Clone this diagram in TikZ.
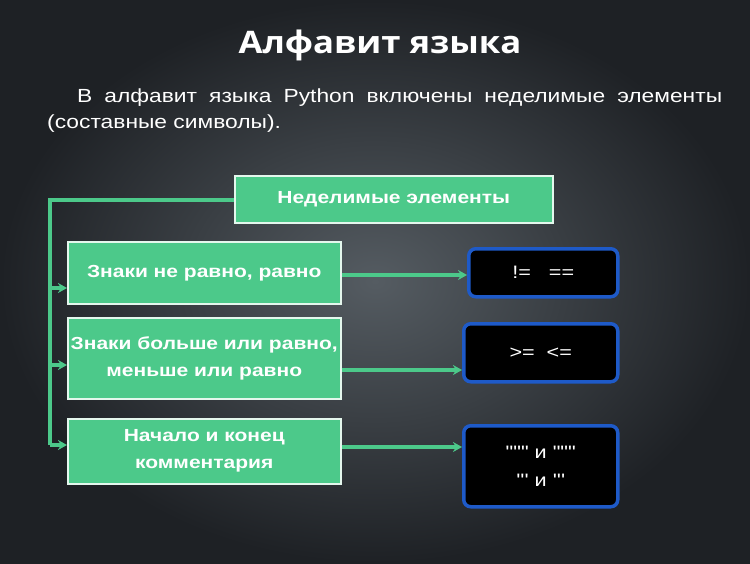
\documentclass[tikz,border=0pt]{standalone}
\usepackage{fontspec}
\setmainfont[FakeStretch=1.2]{Liberation Sans}
\newfontfamily\titlefont[FakeStretch=1.12]{Open Sans}
\newfontfamily\codefont[FakeStretch=1.2,Ligatures=NoCommon]{Liberation Sans}
\usetikzlibrary{arrows.meta}
\definecolor{boxgreen}{RGB}{76,201,138}
\definecolor{bgdark}{RGB}{30,33,37}
\definecolor{bglight}{RGB}{85,92,98}
\definecolor{rimblue}{RGB}{30,90,200}
\newcommand{\dq}{\symbol{34}}
\newcommand{\sq}{\symbol{39}}
\tikzset{
  greenbox/.style={draw=white!85!boxgreen, line width=1.5pt, fill=boxgreen, text=white,
    font=\bfseries\fontsize{17.5}{27}\selectfont, align=center, anchor=north west, inner sep=2pt},
  codebox/.style={draw=rimblue, line width=3.5pt, fill=black, rounded corners=7pt, text=white,
    font=\codefont\fontsize{18}{28}\selectfont, align=center, anchor=north west},
  link/.style={boxgreen, line width=3.5pt},
  arr/.style={link, -{Stealth[length=9pt,width=10pt]}}
}
\begin{document}
\begin{tikzpicture}[x=1pt, y=-1pt]
% фон
\shade[inner color=bglight, outer color=bgdark] (0,0) rectangle (750,563);
\useasboundingbox (0,0) rectangle (750,563);
% заголовок
\node[text=white, font=\titlefont\bfseries\fontsize{31}{36}\selectfont] (title) at (380,45) {Алфавит языка};
\node[text=white, font=\fontsize{19}{26}\selectfont, text width=675pt, align=justify, anchor=north west, inner sep=0pt] (intro) at (47,89)
  {\hspace*{30pt}В алфавит языка Python включены неделимые элементы (составные символы).};
% блоки
\node[greenbox, minimum width=318pt, minimum height=47pt] (head) at (234,175) {Неделимые элементы};
\node[greenbox, minimum width=273pt, minimum height=62pt] (neq) at (67,241) {Знаки не равно, равно};
\node[greenbox, minimum width=273pt, minimum height=81pt] (geq) at (67,317) {Знаки больше или равно,\\меньше или равно};
\node[greenbox, minimum width=273pt, minimum height=65pt] (comm) at (67,418) {Начало и конец\\комментария};
\node[codebox, minimum width=149pt, minimum height=48pt] (c1) at (467,247) {!=\quad ==};
\node[codebox, minimum width=154pt, minimum height=58pt] (c2) at (462,322) {>= \ <=};
\node[codebox, minimum width=154pt, minimum height=81pt] (c3) at (462,424) {\dq\dq\dq\ и \dq\dq\dq\\\sq\sq\sq\ и \sq\sq\sq};
% связи
\coordinate (top) at (50,200);
\coordinate (bot) at (50,445);
\draw[link] (head.west |- top) -- (top) -- (bot);
\draw[arr] (50,288) -- (neq.west |- 0,288);
\draw[arr] (50,365) -- (geq.west |- 0,365);
\draw[arr] (bot) -- (comm.west |- bot);
\draw[arr] (neq.east |- 0,275) -- (c1.west |- 0,275);
\draw[arr] (geq.east |- 0,370) -- (c2.west |- 0,370);
\draw[arr] (comm.east |- 0,447) -- (c3.west |- 0,447);
\end{tikzpicture}
\end{document}
